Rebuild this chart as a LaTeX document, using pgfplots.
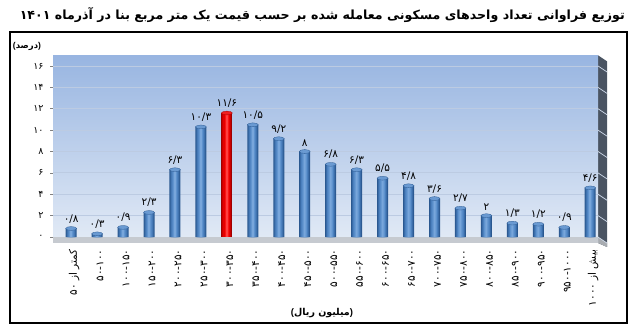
\documentclass[border=0pt]{standalone}
\usepackage{pgfplots}
\pgfplotsset{compat=1.18}
\usepackage{pgfplotstable}
\usepackage{fontspec}
\setmainfont{DejaVu Sans}
\newfontfamily\pf[Script=Arabic]{DejaVu Sans}
\newfontfamily\pp{Liberation Sans}
\TeXXeTstate=1

\definecolor{b1}{HTML}{2A5890}
\definecolor{b2}{HTML}{3A6CA8}
\definecolor{b3}{HTML}{4B80BE}
\definecolor{b4}{HTML}{5F93CE}
\definecolor{b5}{HTML}{78A6DB}
\definecolor{capC}{HTML}{6A9AD2}
\definecolor{r1}{HTML}{A00000}
\definecolor{r2}{HTML}{C80000}
\definecolor{r3}{HTML}{E40000}
\definecolor{r4}{HTML}{F81414}
\definecolor{r5}{HTML}{FF4040}
\definecolor{capR}{HTML}{F02020}
\definecolor{bgTop}{HTML}{98B5E1}
\definecolor{bgBot}{HTML}{E3EBF6}
\definecolor{wallc}{HTML}{4A5462}
\definecolor{floorc}{HTML}{C6CAD0}
\definecolor{gridc}{HTML}{BCCBE2}

\pgfplotstableread{
x y lab
0 0.8 ۰/۸
1 0.3 ۰/۳
2 0.9 ۰/۹
3 2.3 ۲/۳
4 6.3 ۶/۳
5 10.3 ۱۰/۳
7 10.5 ۱۰/۵
8 9.2 ۹/۲
9 8 ۸
10 6.8 ۶/۸
11 6.3 ۶/۳
12 5.5 ۵/۵
13 4.8 ۴/۸
14 3.6 ۳/۶
15 2.7 ۲/۷
16 2 ۲
17 1.3 ۱/۳
18 1.2 ۱/۲
19 0.9 ۰/۹
20 4.6 ۴/۶
}\bluedata

\pgfplotstableread{
x y lab
6 11.6 ۱۱/۶
}\reddata

\begin{document}
\begin{tikzpicture}
\path[use as bounding box] (0,0) rectangle (640bp,333bp);
% frame
\draw[line width=1.2pt] (10bp,10bp) rectangle (627bp,301bp);
% title
\node[anchor=east, inner sep=0pt] at (625bp,318bp) {\pf\bfseries\fontsize{12.6bp}{15bp}\selectfont\beginR توزیع فراوانی تعداد واحدهای مسکونی معامله شده بر حسب قیمت یک متر مربع بنا در آذرماه \beginL۱۴۰۱\endL\endR};
% y unit
\node[inner sep=0pt] at (27bp,287bp) {\pf\bfseries\fontsize{8.5bp}{10bp}\selectfont\beginR{\pp)}درصد{\pp(}\endR};
% x unit
\node[inner sep=0pt] at (322bp,20bp) {\pf\bfseries\fontsize{9.5bp}{11bp}\selectfont\beginR{\pp)}میلیون ریال{\pp(}\endR};

% side wall
\fill[wallc] (598bp,90bp) -- (598bp,277.7bp) -- (607bp,271.7bp) -- (607bp,86bp) -- cycle;
\fill[floorc!85!black] (598bp,90bp) -- (598bp,96bp) -- (607bp,90bp) -- (607bp,86bp) -- cycle;
\foreach \v in {0,2,...,16} {
  \draw[gridc!70!white, line width=0.7pt] (598bp,{(90+(\v+0.56)*10.69)*1bp}) -- ++(9bp,-6bp);
}

\begin{axis}[
  at={(53bp,90bp)}, anchor=south west,
  scale only axis, width=545bp, height=187.7bp,
  xmin=-0.7, xmax=20.3, ymin=-0.56, ymax=17,
  clip=false,
  axis line style={draw=none},
  axis background/.style={top color=bgTop, bottom color=bgBot},
  ymajorgrids, grid style={gridc, line width=0.9pt},
  ytick={0,2,...,16},
  yticklabels={۰,۲,۴,۶,۸,۱۰,۱۲,۱۴,۱۶},
  yticklabel style={font=\pf\fontsize{9.5bp}{10bp}\selectfont, text=black, xshift=-3bp},
  ytick pos=left, xtick pos=bottom,
  tick align=outside,
  major tick length=3bp, minor tick length=4bp,
  y tick style={gray, line width=0.6pt},
  xtick={0,...,20},
  x tick style={draw=none},
  minor xtick={-0.5,0.5,...,20.5},
  minor x tick style={gray, line width=0.6pt},
  xticklabels={
    {\beginR کمتر از \beginL۵۰\endL\endR},
    ۵۰-۱۰۰,۱۰۰-۱۵۰,۱۵۰-۲۰۰,۲۰۰-۲۵۰,۲۵۰-۳۰۰,۳۰۰-۳۵۰,۳۵۰-۴۰۰,۴۰۰-۴۵۰,۴۵۰-۵۰۰,
    ۵۰۰-۵۵۰,۵۵۰-۶۰۰,۶۰۰-۶۵۰,۶۵۰-۷۰۰,۷۰۰-۷۵۰,۷۵۰-۸۰۰,۸۰۰-۸۵۰,۸۵۰-۹۰۰,۹۰۰-۹۵۰,۹۵۰-۱۰۰۰,
    {\beginR بیش از \beginL۱۰۰۰\endL\endR}},
  xticklabel style={font=\pf\fontsize{10.5bp}{12bp}\selectfont, rotate=90, anchor=east, yshift=-3bp, text=black},
  ybar, bar shift=0pt,
  point meta=explicit symbolic,
]
\fill[floorc] (axis cs:-0.7,-0.56) rectangle (axis cs:20.3,0);
% blue cylinders (layered for shading)
\addplot[draw=none, fill=b1, bar width=11bp] table[x=x, y=y] {\bluedata};
\addplot[draw=none, fill=b2, bar width=9bp] table[x=x, y=y] {\bluedata};
\addplot[draw=none, fill=b3, bar width=7bp] table[x=x, y=y] {\bluedata};
\addplot[draw=none, fill=b4, bar width=4.5bp] table[x=x, y=y] {\bluedata};
\addplot[draw=none, fill=b5, bar width=2bp] table[x=x, y=y] {\bluedata};
% red cylinder
\addplot[draw=none, fill=r1, bar width=11bp] table[x=x, y=y] {\reddata};
\addplot[draw=none, fill=r2, bar width=9bp] table[x=x, y=y] {\reddata};
\addplot[draw=none, fill=r3, bar width=7bp] table[x=x, y=y] {\reddata};
\addplot[draw=none, fill=r4, bar width=4.5bp] table[x=x, y=y] {\reddata};
\addplot[draw=none, fill=r5, bar width=2bp] table[x=x, y=y] {\reddata};
% caps and value labels
\addplot[only marks, mark=*, mark size=5.5bp, mark options={yscale=0.35, fill=capC, draw=b1, line width=0.3pt},
  nodes near coords, every node near coord/.append style={font=\pf\fontsize{10.5bp}{12bp}\selectfont, text=black, yshift=2bp}]
  table[x=x, y=y, meta=lab] {\bluedata};
\addplot[only marks, mark=*, mark size=5.5bp, mark options={yscale=0.35, fill=capR, draw=r1, line width=0.3pt},
  nodes near coords, every node near coord/.append style={font=\pf\fontsize{10.5bp}{12bp}\selectfont, text=black, yshift=2bp}]
  table[x=x, y=y, meta=lab] {\reddata};
\end{axis}
\end{tikzpicture}
\end{document}
